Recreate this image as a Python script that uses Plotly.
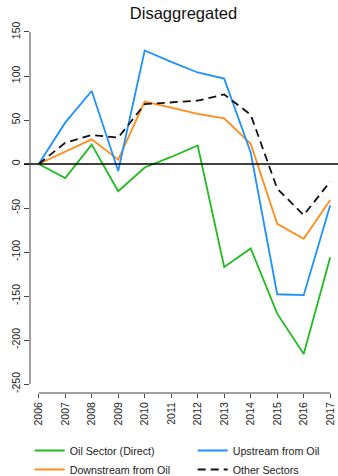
import plotly.graph_objects as go

years = [2006, 2007, 2008, 2009, 2010, 2011, 2012, 2013, 2014, 2015, 2016, 2017]

oil_sector_direct = [0, -16, 22, -31, -4, 8, 21, -117, -96, -170, -216, -106]
upstream_from_oil = [0, 47, 83, -8, 129, 116, 104, 97, 13, -148, -149, -47]
downstream_from_oil = [0, 14, 28, 5, 71, 64, 57, 52, 23, -68, -85, -41]
other_sectors = [0, 24, 33, 30, 68, 70, 72, 79, 56, -28, -58, -20]

series = [
    ("Oil Sector (Direct)", oil_sector_direct, "#22BB22", "solid", 1),
    ("Downstream from Oil", downstream_from_oil, "#FF8C1A", "solid", 3),
    ("Upstream from Oil", upstream_from_oil, "#1E90FF", "solid", 2),
    ("Other Sectors", other_sectors, "#111111", "8px,5px", 4),
]

y_ticks = [-250, -200, -150, -100, -50, 0, 50, 100, 150]

fig = go.Figure()
for name, vals, color, dash, rank in series:
    fig.add_trace(go.Scatter(
        x=years, y=vals, name=name, mode="lines",
        line=dict(color=color, width=1.8, dash=dash),
        legendrank=rank,
    ))

font_family = "Liberation Sans, Arial, sans-serif"

# zero reference line across the panel
fig.add_shape(type="line", xref="paper", yref="y", x0=-0.0195, x1=1.0,
              y0=0, y1=0, line=dict(color="#000000", width=1.4))
# axis lines spanning only the tick range
fig.add_shape(type="line", xref="paper", yref="y", x0=0, x1=0,
              y0=y_ticks[0], y1=y_ticks[-1], line=dict(color="#444444", width=1))
fig.add_shape(type="line", xref="x", yref="paper", x0=years[0], x1=years[-1],
              y0=0, y1=0, line=dict(color="#444444", width=1))

fig.update_layout(
    width=338, height=476,
    margin=dict(l=30, r=0, t=18, b=83, autoexpand=False),
    paper_bgcolor="white", plot_bgcolor="white",
    font=dict(family=font_family, color="#222222"),
    title=dict(text="Disaggregated", x=183.5 / 338, xref="container",
               xanchor="center", y=1 - 13 / 476, yanchor="middle",
               font=dict(size=16.5, color="#111111", family=font_family)),
    xaxis=dict(range=[2005.672, 2017.294], tickvals=years,
               ticktext=[str(y) for y in years], tickangle=-90,
               showgrid=False, zeroline=False, showline=False,
               ticks="outside", ticklen=4, tickcolor="#444444",
               tickfont=dict(size=10.5, color="#222222")),
    yaxis=dict(range=[-260.2, 165.9], tickvals=y_ticks,
               ticktext=[str(v) for v in y_ticks], tickangle=-90,
               showgrid=False, zeroline=False, showline=False,
               ticks="outside", ticklen=5, tickcolor="#444444",
               tickfont=dict(size=10.5, color="#222222")),
    showlegend=True,
    legend=dict(orientation="h", xref="paper", yref="paper",
                x=-0.001, xanchor="left",
                y=-(436 - 393) / 375, yanchor="top",
                entrywidth=118, entrywidthmode="pixels",
                font=dict(size=10.7, color="#222222", family=font_family),
                bgcolor="rgba(0,0,0,0)", tracegroupgap=0),
)

fig.write_html("out.html")
